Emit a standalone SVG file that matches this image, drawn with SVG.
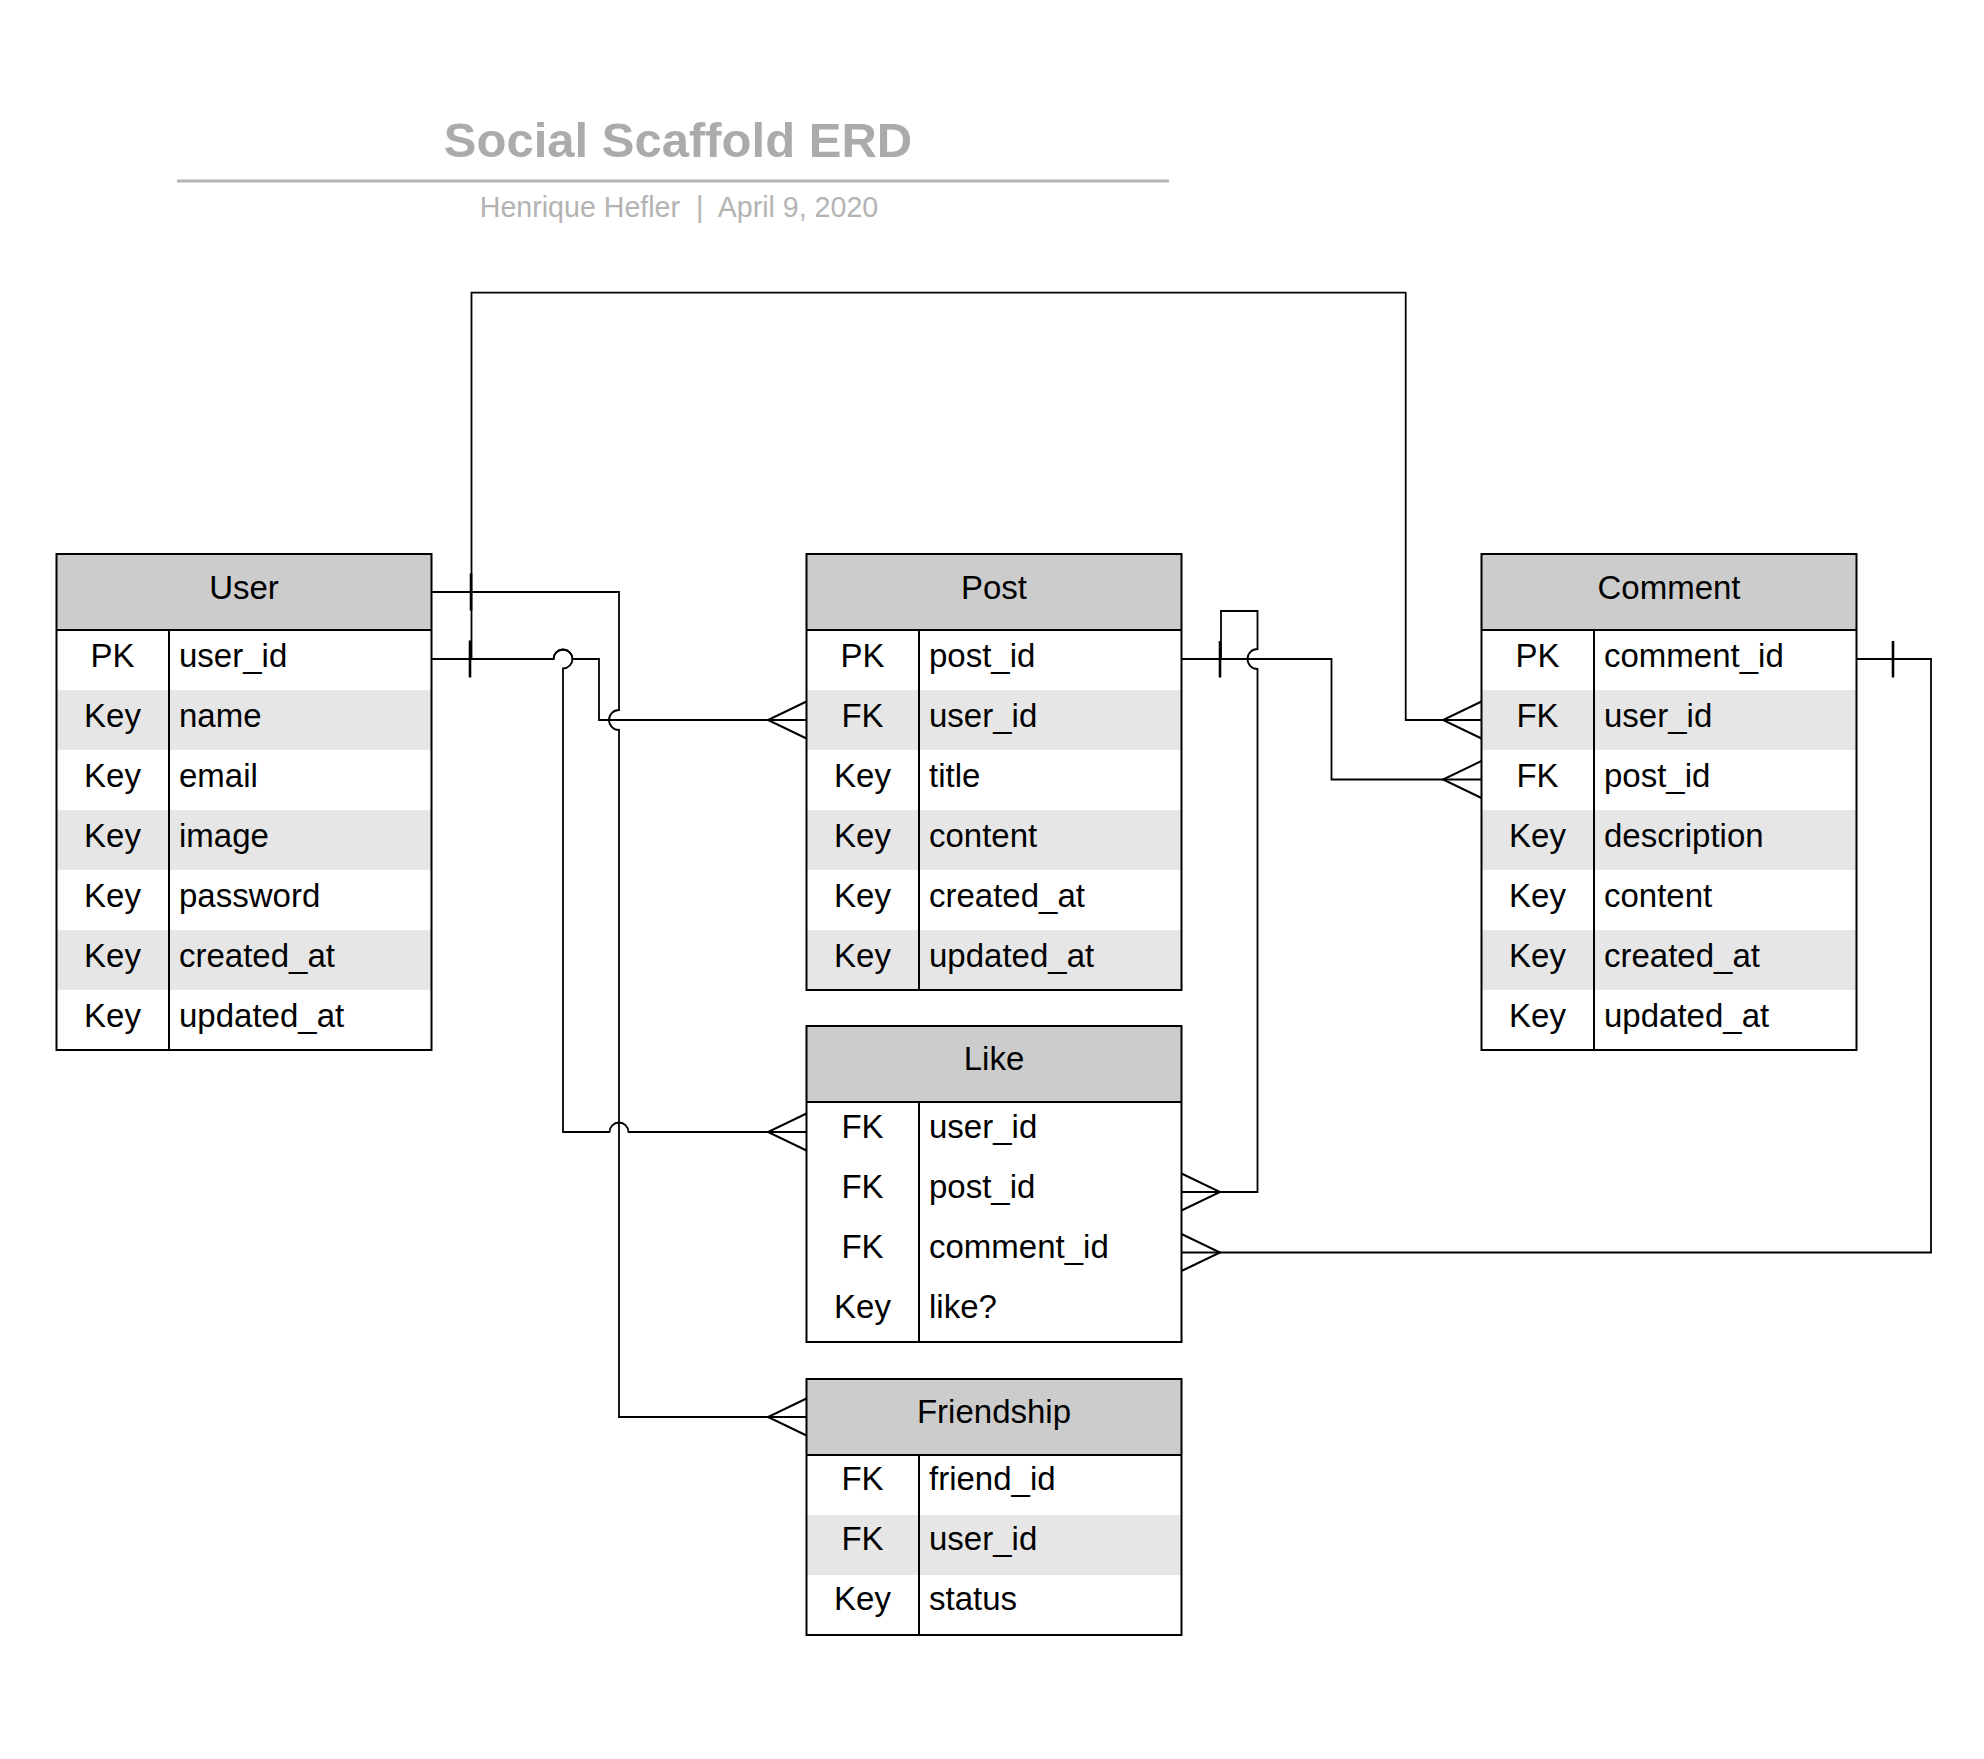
<svg xmlns="http://www.w3.org/2000/svg" width="1984" height="1759" viewBox="0 0 1984 1759">
<style>
  .hdr { fill: #cccccc; }
  .alt { fill: #e6e6e6; }
  .frame { fill: none; stroke: #000; stroke-width: 2; }
  .sep { stroke: #000; stroke-width: 2; }
  .t { font-family: "Liberation Sans", Arial, sans-serif; font-size: 33px; fill: #000; }
  .c { text-anchor: middle; }
  .title { font-family: "Liberation Sans", Arial, sans-serif; font-size: 49px; font-weight: bold; fill: #ababab; text-anchor: middle; }
  .sub { font-family: "Liberation Sans", Arial, sans-serif; font-size: 28.6px; fill: #b3b3b3; text-anchor: middle; white-space: pre; }
  .ln { fill: none; stroke: #000; stroke-width: 1.8; }
  .tick { fill: none; stroke: #000; stroke-width: 2.6; }
  .crow { fill: none; stroke: #000; stroke-width: 2; }
</style>
<rect width="1984" height="1759" fill="#ffffff"/>

<g id="title">
  <text class="title" x="678" y="157">Social Scaffold ERD</text>
  <line x1="177" y1="181" x2="1169" y2="181" stroke="#b3b3b3" stroke-width="3"/>
  <text class="sub" x="679" y="217" xml:space="preserve">Henrique Hefler  |  April 9, 2020</text>
</g>

<g id="connectors">
  <!-- User header -> Friendship -->
  <path class="ln" d="M431.5,592 H619 V710 A10,10 0 0 0 619,730 V1417 H806.5"/>
  <path class="crow" d="M806.5,1398.5 L768,1417 L806.5,1435.5"/>
  <path class="tick" d="M471,573.5 V610.5"/>
  <!-- User user_id -> Comment user_id (top route) -->
  <path class="ln" d="M431.5,659 H471.5 V292.7 H1405.7 V720 H1481.5"/>
  <path class="crow" d="M1481.5,701.5 L1443,720 L1481.5,738.5"/>
  <path class="tick" d="M470,640.5 V677.5"/>
  <!-- User user_id -> Post user_id -->
  <path class="ln" d="M431.5,659 H553.5 A9.5,9.5 0 0 1 572.5,659 H599 V720 H806.5"/>
  <path class="crow" d="M806.5,701.5 L768,720 L806.5,738.5"/>
  <!-- User user_id -> Like user_id -->
  <path class="ln" d="M431.5,659 H553.5 A9.5,9.5 0 0 1 572.5,659 A9.5,9.5 0 0 1 563,668.5 V1132 H609.5 A9.5,9.5 0 0 1 628.5,1132 H806.5"/>
  <path class="crow" d="M806.5,1113.5 L768,1132 L806.5,1150.5"/>
  <!-- Post post_id -> Comment post_id -->
  <path class="ln" d="M1181.5,659 H1331.5 V779.5 H1481.5"/>
  <path class="crow" d="M1481.5,761 L1443,779.5 L1481.5,798"/>
  <path class="tick" d="M1220,641 V677.5"/>
  <!-- Post post_id -> Like post_id -->
  <path class="ln" d="M1181.5,659 H1221 V611 H1257.5 V649 A10,10 0 0 0 1257.5,669 V1192 H1181.5"/>
  <path class="crow" d="M1181.5,1173.5 L1220,1192 L1181.5,1210.5"/>
  <!-- Comment comment_id -> Like comment_id -->
  <path class="ln" d="M1856.5,659 H1931 V1252.5 H1181.5"/>
  <path class="crow" d="M1181.5,1234 L1220,1252.5 L1181.5,1271"/>
  <path class="tick" d="M1893,641 V677.5"/>
</g>

<g id="user">
  <rect x="56.5" y="554" width="375" height="496" fill="#fff"/>
  <rect class="hdr" x="56.5" y="554" width="375" height="76"/>
  <rect class="alt" x="56.5" y="690" width="375" height="60"/>
  <rect class="alt" x="56.5" y="810" width="375" height="60"/>
  <rect class="alt" x="56.5" y="930" width="375" height="60"/>
  <rect class="frame" x="56.5" y="554" width="375" height="496"/>
  <line class="sep" x1="56.5" y1="630" x2="431.5" y2="630"/>
  <line class="sep" x1="169" y1="630" x2="169" y2="1050"/>
  <text class="t c" x="244" y="599">User</text>
  <text class="t c" x="112.5" y="667">PK</text><text class="t" x="179" y="667">user_id</text>
  <text class="t c" x="112.5" y="727">Key</text><text class="t" x="179" y="727">name</text>
  <text class="t c" x="112.5" y="787">Key</text><text class="t" x="179" y="787">email</text>
  <text class="t c" x="112.5" y="847">Key</text><text class="t" x="179" y="847">image</text>
  <text class="t c" x="112.5" y="907">Key</text><text class="t" x="179" y="907">password</text>
  <text class="t c" x="112.5" y="967">Key</text><text class="t" x="179" y="967">created_at</text>
  <text class="t c" x="112.5" y="1027">Key</text><text class="t" x="179" y="1027">updated_at</text>
</g>

<g id="post">
  <rect x="806.5" y="554" width="375" height="436" fill="#fff"/>
  <rect class="hdr" x="806.5" y="554" width="375" height="76"/>
  <rect class="alt" x="806.5" y="690" width="375" height="60"/>
  <rect class="alt" x="806.5" y="810" width="375" height="60"/>
  <rect class="alt" x="806.5" y="930" width="375" height="60"/>
  <rect class="frame" x="806.5" y="554" width="375" height="436"/>
  <line class="sep" x1="806.5" y1="630" x2="1181.5" y2="630"/>
  <line class="sep" x1="919" y1="630" x2="919" y2="990"/>
  <text class="t c" x="994" y="599">Post</text>
  <text class="t c" x="862.5" y="667">PK</text><text class="t" x="929" y="667">post_id</text>
  <text class="t c" x="862.5" y="727">FK</text><text class="t" x="929" y="727">user_id</text>
  <text class="t c" x="862.5" y="787">Key</text><text class="t" x="929" y="787">title</text>
  <text class="t c" x="862.5" y="847">Key</text><text class="t" x="929" y="847">content</text>
  <text class="t c" x="862.5" y="907">Key</text><text class="t" x="929" y="907">created_at</text>
  <text class="t c" x="862.5" y="967">Key</text><text class="t" x="929" y="967">updated_at</text>
</g>

<g id="comment">
  <rect x="1481.5" y="554" width="375" height="496" fill="#fff"/>
  <rect class="hdr" x="1481.5" y="554" width="375" height="76"/>
  <rect class="alt" x="1481.5" y="690" width="375" height="60"/>
  <rect class="alt" x="1481.5" y="810" width="375" height="60"/>
  <rect class="alt" x="1481.5" y="930" width="375" height="60"/>
  <rect class="frame" x="1481.5" y="554" width="375" height="496"/>
  <line class="sep" x1="1481.5" y1="630" x2="1856.5" y2="630"/>
  <line class="sep" x1="1594" y1="630" x2="1594" y2="1050"/>
  <text class="t c" x="1669" y="599">Comment</text>
  <text class="t c" x="1537.5" y="667">PK</text><text class="t" x="1604" y="667">comment_id</text>
  <text class="t c" x="1537.5" y="727">FK</text><text class="t" x="1604" y="727">user_id</text>
  <text class="t c" x="1537.5" y="787">FK</text><text class="t" x="1604" y="787">post_id</text>
  <text class="t c" x="1537.5" y="847">Key</text><text class="t" x="1604" y="847">description</text>
  <text class="t c" x="1537.5" y="907">Key</text><text class="t" x="1604" y="907">content</text>
  <text class="t c" x="1537.5" y="967">Key</text><text class="t" x="1604" y="967">created_at</text>
  <text class="t c" x="1537.5" y="1027">Key</text><text class="t" x="1604" y="1027">updated_at</text>
</g>

<g id="like">
  <rect x="806.5" y="1026" width="375" height="316" fill="#fff"/>
  <rect class="hdr" x="806.5" y="1026" width="375" height="76"/>
  <rect class="frame" x="806.5" y="1026" width="375" height="316"/>
  <line class="sep" x1="806.5" y1="1102" x2="1181.5" y2="1102"/>
  <line class="sep" x1="919" y1="1102" x2="919" y2="1342"/>
  <text class="t c" x="994" y="1070">Like</text>
  <text class="t c" x="862.5" y="1138">FK</text><text class="t" x="929" y="1138">user_id</text>
  <text class="t c" x="862.5" y="1198">FK</text><text class="t" x="929" y="1198">post_id</text>
  <text class="t c" x="862.5" y="1258">FK</text><text class="t" x="929" y="1258">comment_id</text>
  <text class="t c" x="862.5" y="1318">Key</text><text class="t" x="929" y="1318">like?</text>
</g>

<g id="friendship">
  <rect x="806.5" y="1379" width="375" height="256" fill="#fff"/>
  <rect class="hdr" x="806.5" y="1379" width="375" height="76"/>
  <rect class="alt" x="806.5" y="1515" width="375" height="60"/>
  <rect class="frame" x="806.5" y="1379" width="375" height="256"/>
  <line class="sep" x1="806.5" y1="1455" x2="1181.5" y2="1455"/>
  <line class="sep" x1="919" y1="1455" x2="919" y2="1635"/>
  <text class="t c" x="994" y="1423">Friendship</text>
  <text class="t c" x="862.5" y="1490">FK</text><text class="t" x="929" y="1490">friend_id</text>
  <text class="t c" x="862.5" y="1550">FK</text><text class="t" x="929" y="1550">user_id</text>
  <text class="t c" x="862.5" y="1610">Key</text><text class="t" x="929" y="1610">status</text>
</g>
</svg>
